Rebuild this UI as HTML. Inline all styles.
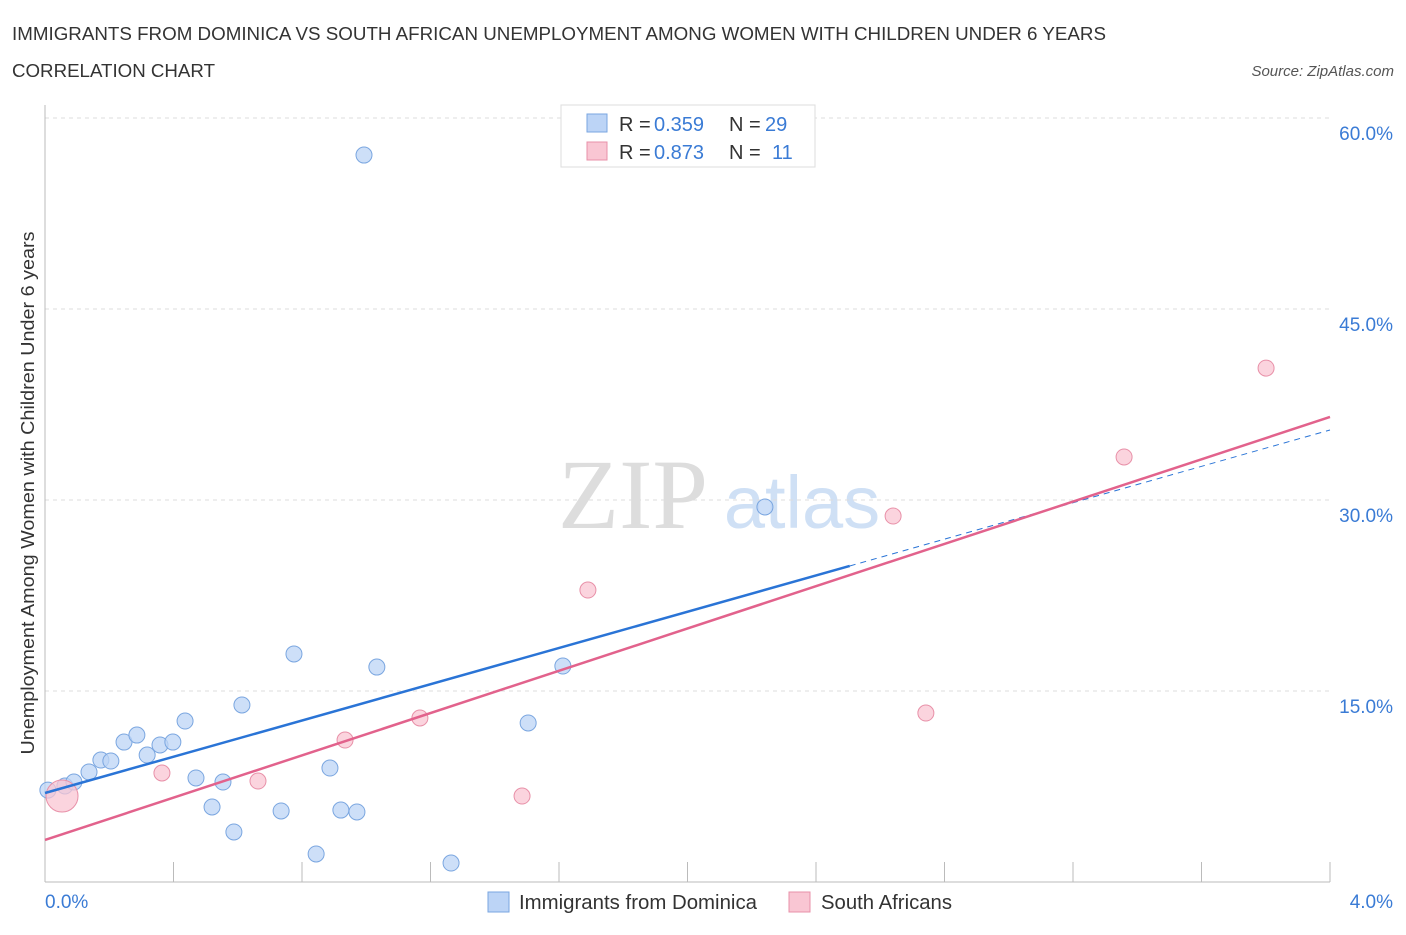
<!DOCTYPE html>
<html><head><meta charset="utf-8"><style>
body{margin:0;background:#fff;font-family:"Liberation Sans",sans-serif;}
svg text{font-family:"Liberation Sans",sans-serif;}
</style></head><body>
<svg id="chart" width="1406" height="930">
<text x="12" y="40" font-size="18" fill="#333" textLength="1094" lengthAdjust="spacingAndGlyphs">IMMIGRANTS FROM DOMINICA VS SOUTH AFRICAN UNEMPLOYMENT AMONG WOMEN WITH CHILDREN UNDER 6 YEARS</text>
<text x="12" y="77" font-size="18" fill="#333" textLength="203" lengthAdjust="spacingAndGlyphs">CORRELATION CHART</text>
<text x="1394" y="76" font-size="15" fill="#555" font-style="italic" text-anchor="end">Source: ZipAtlas.com</text>
<text x="633" y="528" font-size="100" fill="#ddd" style="font-family:'Liberation Serif',serif" text-anchor="middle">ZIP</text>
<text x="802" y="528" font-size="74" fill="#cfe0f5" text-anchor="middle">atlas</text>
<text transform="translate(34,493) rotate(-90)" font-size="18" fill="#333" text-anchor="middle" textLength="523" lengthAdjust="spacingAndGlyphs">Unemployment Among Women with Children Under 6 years</text>
<g id="grid"></g><g id="marks"></g>
<g>
<rect x="561" y="105" width="254" height="62" fill="#fff" stroke="#ddd"/>
<rect x="587" y="114" width="20" height="18" fill="#bcd4f6" stroke="#7aa6e0"/>
<text x="619" y="131" font-size="20" fill="#333">R =</text><text x="654" y="131" font-size="20" fill="#3a7bd5">0.359</text>
<text x="729" y="131" font-size="20" fill="#333">N =</text><text x="765" y="131" font-size="20" fill="#3a7bd5">29</text>
<rect x="587" y="142" width="20" height="18" fill="#f9c6d3" stroke="#e890a8"/>
<text x="619" y="159" font-size="20" fill="#333">R =</text><text x="654" y="159" font-size="20" fill="#3a7bd5">0.873</text>
<text x="729" y="159" font-size="20" fill="#333">N =</text><text x="772" y="159" font-size="20" fill="#3a7bd5">11</text>
</g>
<g>
<rect x="488" y="892" width="21" height="20" fill="#bcd4f6" stroke="#7aa6e0"/>
<text x="519" y="909" font-size="20" fill="#333" textLength="238" lengthAdjust="spacingAndGlyphs">Immigrants from Dominica</text>
<rect x="789" y="892" width="21" height="20" fill="#f9c6d3" stroke="#e890a8"/>
<text x="821" y="909" font-size="20" fill="#333" textLength="131" lengthAdjust="spacingAndGlyphs">South Africans</text>
</g>
</svg>
<script>
const blueX=[0.009,0.062,0.090,0.137,0.174,0.205,0.246,0.286,0.318,0.358,0.398,0.436,0.470,0.520,0.554,0.588,0.613,0.735,0.775,0.844,0.887,0.921,0.971,0.993,1.033,1.264,1.504,1.612,2.241];
const blueY=[7.22,7.54,7.85,8.64,9.58,9.50,10.99,11.54,9.97,10.76,10.99,12.64,8.17,5.89,7.85,3.93,13.90,5.58,17.91,2.20,8.95,5.65,5.50,57.09,16.88,1.49,12.49,16.96,29.45];
const pinkX=[0.053,0.364,0.663,0.934,1.167,1.485,1.690,2.640,2.742,3.359,3.801];
const pinkY=[6.75,8.56,7.93,11.15,12.88,6.75,22.93,28.74,13.27,33.38,40.36];
const pinkR=[16,8,8,8,8,8,8,8,8,8,8];
const yTicks=[15,30,45,60];
const yTickLabels=["15.0%","30.0%","45.0%","60.0%"];
const xTickLabels=["0.0%","4.0%"];
const blueLine=[6.99,24.82,2.505,35.5];
const pinkLine=[3.30,36.52];
const NS="http://www.w3.org/2000/svg";
const sx=v=>45+v/4*1285, sy=v=>882-v/15*191;
function mk(t,a,p){const e=document.createElementNS(NS,t);for(const k in a)e.setAttribute(k,a[k]);p.appendChild(e);return e;}
const g=document.getElementById('grid'), m=document.getElementById('marks');
yTicks.forEach((t,i)=>{
 const l=mk('line',{x1:45,x2:1330,y1:sy(t),y2:sy(t),stroke:'#ddd','stroke-dasharray':'4,4'},g);
 
 
 const tx=mk('text',{x:1393,y:sy(t)+22,'font-size':19,fill:'#3a7bd5','text-anchor':'end'},g);
 tx.textContent=yTickLabels[i];
 
 
});
const ax=mk('line',{x1:45,x2:45,y1:105,y2:882,stroke:'#bbb'},g);


const bx=mk('line',{x1:45,x2:1330,y1:882,y2:882,stroke:'#bbb'},g);


for(let i=1;i<=10;i++){const t=mk('line',{x1:sx(i*0.4),x2:sx(i*0.4),y1:862,y2:882,stroke:'#bbb'},g);
 
 }
[[0,'start',45],[4,'end',1393]].forEach(([v,a,x],i)=>{const t=mk('text',{x:x,y:908,'font-size':19,fill:'#3a7bd5','text-anchor':a},g);t.textContent=xTickLabels[i];
 
 });
blueX.forEach((x,i)=>{const c=mk('circle',{cx:sx(x),cy:sy(blueY[i]),r:8,fill:'rgba(188,212,246,0.75)',stroke:'#7aa6e0','stroke-width':1},m);
 
 });
pinkX.forEach((x,i)=>{const c=mk('circle',{cx:sx(x),cy:sy(pinkY[i]),r:pinkR[i],fill:'rgba(249,198,211,0.75)',stroke:'#e890a8','stroke-width':1},m);
 
 });
const bl=mk('line',{x1:sx(0),y1:sy(blueLine[0]),x2:sx(blueLine[2]),y2:sy(blueLine[1]),stroke:'#2a74d6','stroke-width':2.5},m);


const bd=mk('line',{x1:sx(blueLine[2]),y1:sy(blueLine[1]),x2:sx(4),y2:sy(blueLine[3]),stroke:'#2a74d6','stroke-width':1,'stroke-dasharray':'6,5'},m);


const pl=mk('line',{x1:sx(0),y1:sy(pinkLine[0]),x2:sx(4),y2:sy(pinkLine[1]),stroke:'#e2628c','stroke-width':2.5},m);


</script>
</body></html>
